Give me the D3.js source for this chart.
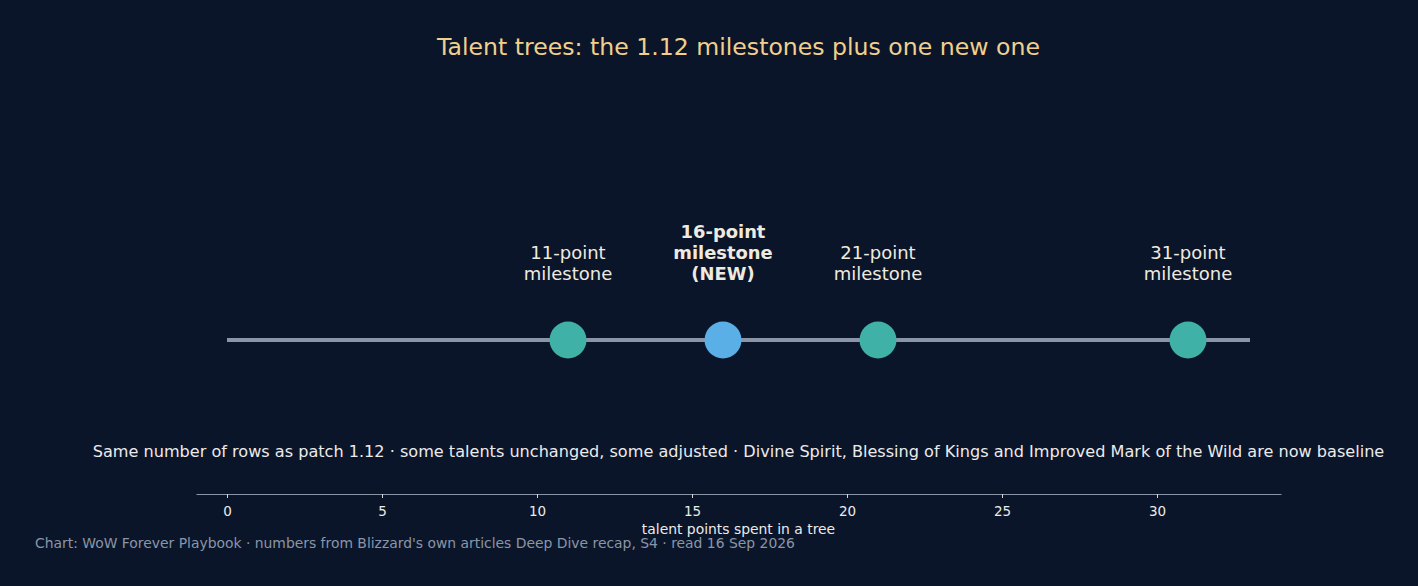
<!DOCTYPE html>
<html><head><meta charset="utf-8">
<script src="https://cdn.jsdelivr.net/npm/d3@7"></script>
<style>
html,body{margin:0;padding:0;background:#0b1529;}
svg{display:block;font-family:"DejaVu Sans",sans-serif;}
</style></head>
<body>
<svg id="chart" width="1418" height="586"></svg>
<script>
const milestonePoints = [11, 16, 21, 31];
const milestoneLabels = [["11-point","milestone"],["16-point","milestone","(NEW)"],["21-point","milestone"],["31-point","milestone"]];
const milestoneIsNew = [false, true, false, false];
const timelineSpan = [0, 33];
const axisTicks = [0, 5, 10, 15, 20, 25, 30];
const axisDomain = [-1, 34];

const titleText = "Talent trees: the 1.12 milestones plus one new one";
const captionText = "Same number of rows as patch 1.12 · some talents unchanged, some adjusted · Divine Spirit, Blessing of Kings and Improved Mark of the Wild are now baseline";
const axisTitle = "talent points spent in a tree";
const footerText = "Chart: WoW Forever Playbook · numbers from Blizzard's own articles Deep Dive recap, S4 · read 16 Sep 2026";

const svg = d3.select("#chart");
svg.append("rect").attr("width",1418).attr("height",586).attr("fill","#0b1529");

const x = d3.scaleLinear().domain(axisDomain).range([196, 1281]);
const yLine = 340;

svg.append("text").attr("x",738.5).attr("y",54.5).attr("text-anchor","middle")
  .attr("fill","#f0d08c").attr("font-size",23.6).text(titleText);

svg.append("line").attr("x1",x(timelineSpan[0])).attr("x2",x(timelineSpan[1]))
  .attr("y1",yLine).attr("y2",yLine).attr("stroke","#8a95a8").attr("stroke-width",4);

const data = milestonePoints.map((p,i)=>({p, label:milestoneLabels[i], isNew:milestoneIsNew[i]}));

svg.selectAll("circle.m").data(data).enter().append("circle")
  .attr("cx",d=>x(d.p)).attr("cy",yLine).attr("r",18.5)
  .attr("fill",d=>d.isNew?"#5aafe6":"#3fb1a7");

data.forEach(d=>{
  const n = d.label.length;
  const lh = 21;
  const lastY = 279.5;
  const t = svg.append("text").attr("text-anchor","middle")
    .attr("fill","#efeae0").attr("font-size",d.isNew?17.9:18)
    .attr("font-weight",d.isNew?"bold":"normal");
  d.label.forEach((s,j)=>{
    t.append("tspan").attr("x",x(d.p)).attr("y",lastY-(n-1-j)*lh).text(s);
  });
});

svg.append("text").attr("x",738.5).attr("y",457).attr("text-anchor","middle")
  .attr("fill","#ebebeb").attr("font-size",16.1).text(captionText);

const axis = d3.axisBottom(x).tickValues(axisTicks).tickSize(4).tickPadding(4).tickSizeOuter(0);
const g = svg.append("g").attr("transform","translate(0,494)").call(axis);
g.select(".domain").attr("stroke","#8a95a8");
g.selectAll(".tick line").attr("stroke","#d8d8d8");
g.selectAll(".tick text").attr("fill","#ebebeb").attr("font-size",13.5).attr("font-family","DejaVu Sans").attr("dy","1.05em");

svg.append("text").attr("x",738.5).attr("y",534).attr("text-anchor","middle")
  .attr("fill","#ebebeb").attr("font-size",13.9).text(axisTitle);

svg.append("text").attr("x",35).attr("y",548).attr("fill","#8a95a8")
  .attr("font-size",13.9).text(footerText);
</script>
</body></html>
